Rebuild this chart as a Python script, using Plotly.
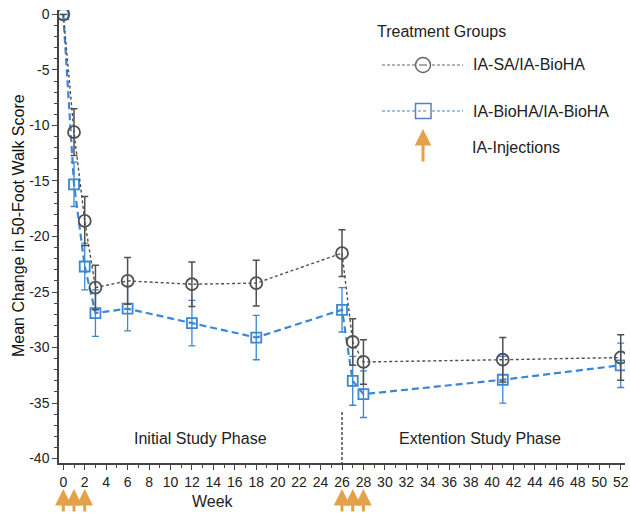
import plotly.graph_objects as go

weeks = [0, 1, 2, 3, 6, 12, 18, 26, 27, 28, 41, 52]
sa_mean = [0, -10.6, -18.6, -24.6, -24.0, -24.3, -24.2, -21.5, -29.5, -31.3, -31.1, -30.9]
sa_se = [0, 2.1, 2.2, 2.0, 2.1, 2.0, 2.05, 2.1, 2.1, 2.0, 2.0, 2.05]
bio_mean = [0, -15.3, -22.7, -26.9, -26.5, -27.8, -29.1, -26.6, -33.0, -34.2, -32.9, -31.6]
bio_se = [0, 2.0, 2.1, 2.1, 2.0, 2.05, 2.0, 2.0, 2.2, 2.1, 2.1, 2.0]
injection_weeks = [0, 1, 2, 26, 27, 28]
x_ticks = list(range(0, 53, 2))
y_ticks = [0, -5, -10, -15, -20, -25, -30, -35, -40]
phase_break = 26

GRAY = "#505050"
BLUE = "#3b87d4"
ORANGE = "#e2a14a"
FONT = "Liberation Sans, Arial, sans-serif"

W, H = 630, 513
L, R, T, B = 59, 5, 10, 50
PW, PH = W - L - R, H - T - B


def px(X):
    return (X - L) / PW


def py(Y):
    return (H - B - Y) / PH


fig = go.Figure()

fig.add_trace(go.Scatter(
    x=weeks, y=bio_mean, mode="lines+markers", name="IA-BioHA/IA-BioHA",
    line=dict(color=BLUE, width=2.2, dash="7px,4px"),
    marker=dict(symbol="square-open", size=10, color=BLUE, line=dict(width=1.8, color=BLUE)),
    error_y=dict(type="data", array=bio_se, color=BLUE, thickness=1.3, width=3.5),
    showlegend=False,
))
fig.add_trace(go.Scatter(
    x=weeks, y=sa_mean, mode="lines+markers", name="IA-SA/IA-BioHA",
    line=dict(color=GRAY, width=1.4, dash="3px,2.5px"),
    marker=dict(symbol="circle-open", size=12, color=GRAY, line=dict(width=1.8, color=GRAY)),
    error_y=dict(type="data", array=sa_se, color=GRAY, thickness=1.5, width=3.5),
    showlegend=False,
))

shapes = []
# phase divider
shapes.append(dict(type="line", xref="x", yref="y", x0=phase_break, x1=phase_break,
                   y0=-35.8, y1=-40.4, line=dict(color="#222", width=1.2, dash="3px,2px")))

# legend drawing (paper coords)
ly1, ly2 = 65, 111
shapes.append(dict(type="line", xref="paper", yref="paper", x0=px(382), x1=px(463),
                   y0=py(ly1), y1=py(ly1), line=dict(color="#666", width=1.1, dash="3px,2px")))
shapes.append(dict(type="circle", xref="paper", yref="paper", x0=px(415.5), x1=px(430.5),
                   y0=py(ly1 + 7.5), y1=py(ly1 - 7.5), fillcolor="white",
                   line=dict(color="#666", width=1.5)))
shapes.append(dict(type="line", xref="paper", yref="paper", x0=px(419), x1=px(427),
                   y0=py(ly1), y1=py(ly1), line=dict(color="#666", width=1.1)))
shapes.append(dict(type="line", xref="paper", yref="paper", x0=px(382), x1=px(463),
                   y0=py(ly2), y1=py(ly2), line=dict(color=BLUE, width=1.1, dash="3px,2px")))
shapes.append(dict(type="rect", xref="paper", yref="paper", x0=px(415.5), x1=px(431),
                   y0=py(ly2 + 7.5), y1=py(ly2 - 7.5), fillcolor="white",
                   line=dict(color="#5b7fc0", width=1.5)))
shapes.append(dict(type="line", xref="paper", yref="paper", x0=px(418), x1=px(428),
                   y0=py(ly2), y1=py(ly2), line=dict(color=BLUE, width=1.1, dash="3px,2px")))

annotations = []
for wk in injection_weeks:
    annotations.append(dict(x=wk, y=py(489), xref="x", yref="paper", text="", showarrow=True,
                            ax=0, ay=30, arrowhead=2, arrowsize=1.1, arrowwidth=3,
                            arrowcolor=ORANGE))
annotations.append(dict(x=px(423), y=py(129), xref="paper", yref="paper", text="", showarrow=True,
                        ax=0, ay=34, arrowhead=2, arrowsize=1.1, arrowwidth=3, arrowcolor=ORANGE))

txt = dict(family=FONT, size=16, color="#222")
annotations += [
    dict(x=px(375), y=py(31), xref="paper", yref="paper", text="Treatment Groups",
         showarrow=False, xanchor="left", yanchor="middle", font=txt),
    dict(x=px(471), y=py(ly1), xref="paper", yref="paper", text="IA-SA/IA-BioHA",
         showarrow=False, xanchor="left", yanchor="middle", font=txt),
    dict(x=px(471), y=py(ly2), xref="paper", yref="paper", text="IA-BioHA/IA-BioHA",
         showarrow=False, xanchor="left", yanchor="middle", font=txt),
    dict(x=px(470), y=py(147), xref="paper", yref="paper", text="IA-Injections",
         showarrow=False, xanchor="left", yanchor="middle", font=txt),
    dict(x=12.8, y=-38.2, xref="x", yref="y", text="Initial Study Phase",
         showarrow=False, xanchor="center", yanchor="middle", font=txt),
    dict(x=38.9, y=-38.2, xref="x", yref="y", text="Extention Study Phase",
         showarrow=False, xanchor="center", yanchor="middle", font=txt),
    dict(x=px(213), y=py(501), xref="paper", yref="paper", text="Week",
         showarrow=False, xanchor="center", yanchor="middle", font=txt),
    dict(x=px(18), y=py(226), xref="paper", yref="paper", text="Mean Change in 50-Foot Walk Score",
         showarrow=False, xanchor="center", yanchor="middle", textangle=-90,
         font=dict(family=FONT, size=16, color="#111")),
]

axis_common = dict(ticks="outside", ticklen=5, tickwidth=1.2, tickcolor="#444",
                   showline=True, linecolor="#444", linewidth=1.5, showgrid=False,
                   zeroline=False, automargin=False,
                   tickfont=dict(family=FONT, size=14, color="#222"))

fig.update_layout(
    width=W, height=H,
    margin=dict(l=L, r=R, t=T, b=B, autoexpand=False),
    paper_bgcolor="white", plot_bgcolor="white",
    font=dict(family=FONT, size=14, color="#222"),
    shapes=shapes, annotations=annotations, showlegend=False,
    xaxis=dict(range=[-0.4, 52.4], tickvals=x_ticks, ticktext=[str(v) for v in x_ticks],
               minor=dict(dtick=1, tick0=0, ticks="outside", ticklen=3, tickcolor="#444",
                          showgrid=False), **axis_common),
    yaxis=dict(range=[-40.4, 0.4], tickvals=y_ticks, ticktext=[str(v) for v in y_ticks],
               minor=dict(dtick=1, tick0=0, ticks="outside", ticklen=3, tickcolor="#444",
                          showgrid=False), **axis_common),
)

fig.write_html("out.html", config={"displayModeBar": False},
               post_script="document.body.style.margin='0';document.body.style.overflow='hidden';")
